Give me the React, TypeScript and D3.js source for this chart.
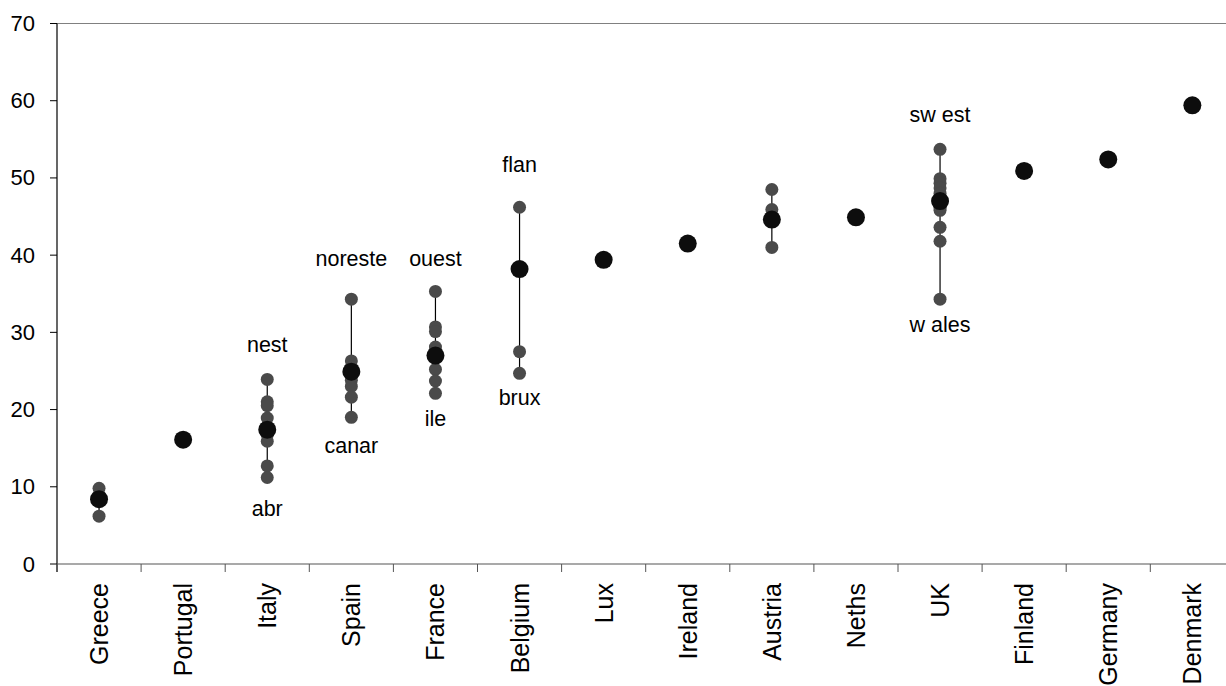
import React from "react";
import * as d3 from "d3";

const categories = ["Greece", "Portugal", "Italy", "Spain", "France", "Belgium", "Lux", "Ireland", "Austria", "Neths", "UK", "Finland", "Germany", "Denmark"];
const nationalValues = [8.4, 16.1, 17.4, 24.9, 27.0, 38.2, 39.4, 41.5, 44.6, 44.9, 47.0, 50.9, 52.4, 59.4];
const regionalValues: number[][] = [
  [9.8, 8.9, 6.2],
  [],
  [23.9, 21.0, 20.5, 18.9, 17.8, 16.7, 15.9, 12.7, 11.2],
  [34.3, 26.3, 25.5, 23.8, 23.0, 21.6, 19.0],
  [35.3, 30.7, 30.1, 28.1, 27.6, 25.2, 23.7, 22.1],
  [46.2, 27.5, 24.7],
  [],
  [],
  [48.5, 45.9, 41.0],
  [],
  [53.7, 49.9, 49.3, 48.7, 48.0, 46.1, 45.8, 43.6, 41.8, 34.3],
  [],
  [],
  [],
];
const labelCountries = ["Italy", "Italy", "Spain", "Spain", "France", "France", "Belgium", "Belgium", "UK", "UK"];
const labelTexts = ["nest", "abr", "noreste", "canar", "ouest", "ile", "flan", "brux", "sw est", "w ales"];
const labelValues = [28.4, 7.1, 39.5, 15.3, 39.5, 18.8, 51.7, 21.5, 58.2, 31.0];
const yTicks = [0, 10, 20, 30, 40, 50, 60, 70];

const W = 1226;
const H = 686;
const left = 57;
const top = 23.5;
const bottom = 564;
const right = 57 + 14 * 84.1;

export default function App() {
  const x = d3.scaleBand<string>().domain(categories).range([left, right]).padding(0);
  const y = d3.scaleLinear().domain([0, 70]).range([bottom, top]);
  const cx = (c: string) => (x(c) as number) + x.bandwidth() / 2;
  const font = "'Liberation Sans', Arial, sans-serif";

  return (
    <svg width={W} height={H} style={{ position: "absolute", left: 0, top: 0, background: "#fff" }} fontFamily={font}>
      {/* top border */}
      <line x1={left} x2={W} y1={top} y2={top} stroke="#808080" strokeWidth={1.2} />
      {/* y axis */}
      <line x1={left} x2={left} y1={top} y2={bottom + 8} stroke="#000" strokeWidth={1.2} />
      {yTicks.map((t) => (
        <g key={t}>
          <line x1={left - 7} x2={left} y1={y(t)} y2={y(t)} stroke="#000" strokeWidth={1} />
          <text x={35} y={y(t)} textAnchor="end" dominantBaseline="central" fontSize={22} fill="#000">
            {t}
          </text>
        </g>
      ))}
      {/* x axis */}
      <line x1={left} x2={W} y1={bottom} y2={bottom} stroke="#555" strokeWidth={1.2} />
      {categories.map((c) => (
        <line key={"tk" + c} x1={x(c) as number} x2={x(c) as number} y1={bottom} y2={bottom + 8} stroke="#555" strokeWidth={1} />
      ))}
      {categories.map((c) => (
        <text key={"xl" + c} transform={`translate(${cx(c)},${bottom + 19}) rotate(-90)`} textAnchor="end" dominantBaseline="central" fontSize={25} fill="#000">
          {c}
        </text>
      ))}
      {/* range lines */}
      {categories.map((c, i) => {
        const vals = regionalValues[i];
        if (vals.length < 2) return null;
        const mx = d3.max(vals) as number;
        const mn = d3.min(vals) as number;
        return <line key={"rl" + c} x1={cx(c)} x2={cx(c)} y1={y(mx)} y2={y(mn)} stroke="#000" strokeWidth={1.2} />;
      })}
      {/* regional dots */}
      {categories.map((c, i) =>
        regionalValues[i].map((v, j) => <circle key={"rd" + c + j} cx={cx(c)} cy={y(v)} r={6.5} fill="#4a4a4a" />)
      )}
      {/* national dots */}
      {categories.map((c, i) => (
        <circle key={"nd" + c} cx={cx(c)} cy={y(nationalValues[i])} r={9} fill="#0d0d0d" />
      ))}
      {/* labels */}
      {labelTexts.map((t, i) => (
        <text key={"lb" + i} x={cx(labelCountries[i])} y={y(labelValues[i])} textAnchor="middle" dominantBaseline="central" fontSize={21.5} fill="#000">
          {t}
        </text>
      ))}
    </svg>
  );
}
